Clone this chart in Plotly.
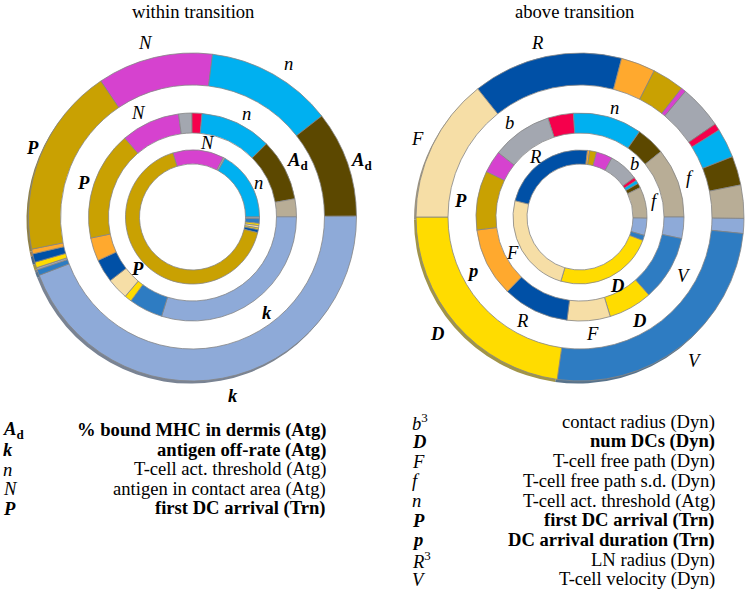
import plotly.graph_objects as go

W, H = 745, 589

# ---------------- colours per parameter ----------------
COLORS = {
    "N": "#d642cf", "n": "#00b0f0", "Ad": "#5c4800", "f": "#b8ad96",
    "k": "#8eaad8", "V": "#2e7cc2", "D": "#ffdc00", "R": "#0050a6",
    "F": "#f6dea6", "p": "#ffa92e", "P": "#c9a102", "b": "#a3a7b0",
    "x": "#f5004c",
}

# ---------------- data (slice sizes, degrees of 360) ----------------
# within transition
left_outer_keys = ["N", "n", "Ad", "k", "V", "b", "D", "R", "p", "P"]
left_outer_vals = [41, 45, 37.7, 159.5, 2, 0.8, 2, 3, 1.7, 67.3]
left_outer_start = 326

left_mid_keys = ["N", "b", "x", "n", "Ad", "f", "k", "V", "D", "F", "R", "p", "P"]
left_mid_vals = [33, 7.4, 5.6, 40, 34.6, 10, 107.4, 19, 4, 12, 13, 13, 61]
left_mid_start = 319.3

left_in_keys = ["N", "b", "n", "b", "V", "D", "F", "D", "R", "P"]
left_in_vals = [44.4, 1.6, 61, 1.5, 4, 2, 2, 1.5, 2.5, 239.5]
left_in_start = 343

# above transition
right_outer_keys = ["R", "p", "P", "N", "b", "x", "n", "Ad", "f", "k", "V", "D", "F"]
right_outer_vals = [53.3, 12.2, 11.4, 1.7, 15.5, 2.5, 10.4, 10.3, 11.8, 5.3, 92.2, 82, 51.4]
right_outer_start = 321.4

right_mid_keys = ["x", "n", "Ad", "f", "k", "V", "D", "F", "R", "p", "P", "N", "b"]
right_mid_vals = [14.4, 38.5, 16.1, 39, 12, 36.6, 24.5, 24.1, 37.1, 38.5, 33.1, 12.4, 33.7]
right_mid_start = 342

right_in_keys = ["R", "p", "P", "N", "b", "x", "n", "Ad", "f", "k", "V", "D", "F"]
right_in_vals = [82.4, 2, 6, 14, 25.7, 3, 3, 3.9, 27.1, 14.9, 4.5, 86.2, 87.4]
right_in_start = 284

# legends
left_legend_syms = ["<b><i>A</i><sub>d</sub></b>", "<b><i>k</i></b>", "<i>n</i>", "<i>N</i>", "<b><i>P</i></b>"]
left_legend_desc = ["<b>% bound MHC in dermis (Atg)</b>", "<b>antigen off-rate (Atg)</b>",
                    "T-cell act. threshold (Atg)", "antigen in contact area (Atg)",
                    "<b>first DC arrival (Trn)</b>"]
right_legend_syms = ["<i>b</i><sup>3</sup>", "<b><i>D</i></b>", "<i>F</i>", "<i>f</i>", "<i>n</i>",
                     "<b><i>P</i></b>", "<b><i>p</i></b>", "<i>R</i><sup>3</sup>", "<i>V</i>"]
right_legend_desc = ["contact radius (Dyn)", "<b>num DCs (Dyn)</b>", "T-cell free path (Dyn)",
                     "T-cell free path s.d. (Dyn)", "T-cell act. threshold (Atg)",
                     "<b>first DC arrival (Trn)</b>", "<b>DC arrival duration (Trn)</b>",
                     "LN radius (Dyn)", "T-cell velocity (Dyn)"]

# ---------------- geometry ----------------
LC = (192.5, 217)
RC = (580, 217)
RINGS = {"outer": (164, 132), "mid": (104, 84), "in": (67, 53)}
FONT = "Liberation Serif, Times New Roman, serif"
FS = 18.6


def dom(cx, cy, r):
    return dict(x=[(cx - r) / W, (cx + r) / W], y=[1 - (cy + r) / H, 1 - (cy - r) / H])


def darken(hexc, f=0.35, g=110):
    h = hexc.lstrip("#")
    c = [int(h[i:i + 2], 16) for i in (0, 2, 4)]
    c = [round(f * v + (1 - f) * g) for v in c]
    return "rgb(%d,%d,%d)" % tuple(c)


fig = go.Figure()


def ring(center, ring_name, keys, vals, start, shadow=False):
    R, r = RINGS[ring_name]
    cx, cy = center
    if shadow:
        off = (-2.0, 2.6)
        fig.add_trace(go.Pie(
            values=vals, sort=False, direction="clockwise", rotation=start,
            hole=(r + 4) / R, domain=dom(cx + off[0], cy + off[1], R),
            marker=dict(colors=[darken(COLORS[k]) for k in keys], line=dict(width=0)),
            textinfo="none", hoverinfo="skip", showlegend=False))
    fig.add_trace(go.Pie(
        values=vals, sort=False, direction="clockwise", rotation=start,
        hole=r / R, domain=dom(cx, cy, R),
        marker=dict(colors=[COLORS[k] for k in keys], line=dict(width=0.8, color="#858585")),
        textinfo="none", hoverinfo="skip", showlegend=False))


ring(LC, "outer", left_outer_keys, left_outer_vals, left_outer_start, shadow=True)
ring(LC, "mid", left_mid_keys, left_mid_vals, left_mid_start)
ring(LC, "in", left_in_keys, left_in_vals, left_in_start)
ring(RC, "outer", right_outer_keys, right_outer_vals, right_outer_start, shadow=True)
ring(RC, "mid", right_mid_keys, right_mid_vals, right_mid_start)
ring(RC, "in", right_in_keys, right_in_vals, right_in_start)

annotations = []


def ann(x, y, text, xanchor="center", size=FS):
    annotations.append(dict(
        x=x / W, y=1 - y / H, xref="paper", yref="paper", text=text, showarrow=False,
        xanchor=xanchor, yanchor="middle", font=dict(family=FONT, size=size, color="black")))


# titles
ann(193.5, 12, "within transition")
ann(575, 12, "above transition")

# ring labels, left
AD = "<b><i>A</i><sub>d</sub></b>"
for (x, y, t) in [
    (145, 42, "<i>N</i>"), (288, 63, "<i>n</i>"), (361, 161, AD), (32, 147, "<b><i>P</i></b>"),
    (138, 112, "<i>N</i>"), (247, 113, "<i>n</i>"), (83, 182, "<b><i>P</i></b>"), (297, 161, AD),
    (207, 143, "<i>N</i>"), (258, 182, "<i>n</i>"), (137, 268, "<b><i>P</i></b>"),
    (267, 312, "<b><i>k</i></b>"), (233, 395, "<b><i>k</i></b>"),
]:
    ann(x, y, t)

# ring labels, right
for (x, y, t) in [
    (537, 42, "<i>R</i>"), (614, 107, "<i>n</i>"), (509, 123, "<i>b</i>"), (417, 138, "<i>F</i>"),
    (535, 157, "<i>R</i>"), (634, 163, "<i>b</i>"), (690, 177, "<i>f</i>"), (655, 200, "<i>f</i>"),
    (460, 200, "<b><i>P</i></b>"), (512, 253, "<i>F</i>"), (472, 270, "<b><i>p</i></b>"),
    (684, 275, "<i>V</i>"), (617, 285, "<b><i>D</i></b>"), (639, 320, "<b><i>D</i></b>"),
    (522, 320, "<i>R</i>"), (592, 333, "<i>F</i>"), (437, 333, "<b><i>D</i></b>"),
    (695, 360, "<i>V</i>"),
]:
    ann(x, y, t)

# legends
for i, (s, d) in enumerate(zip(left_legend_syms, left_legend_desc)):
    y = 430 + i * 19.6
    ann(1, y, s, xanchor="left")
    ann(328, y, d, xanchor="right")
for i, (s, d) in enumerate(zip(right_legend_syms, right_legend_desc)):
    y = 421.7 + i * 19.7
    ann(410, y, s, xanchor="left")
    ann(717, y, d, xanchor="right")

fig.update_layout(
    width=W, height=H, margin=dict(l=0, r=0, t=0, b=0),
    paper_bgcolor="white", plot_bgcolor="white",
    annotations=annotations, showlegend=False,
)

fig.write_html(
    "out.html",
    config={"displayModeBar": False, "staticPlot": True},
    post_script="document.body.style.margin='0';document.body.style.overflow='hidden';",
)
